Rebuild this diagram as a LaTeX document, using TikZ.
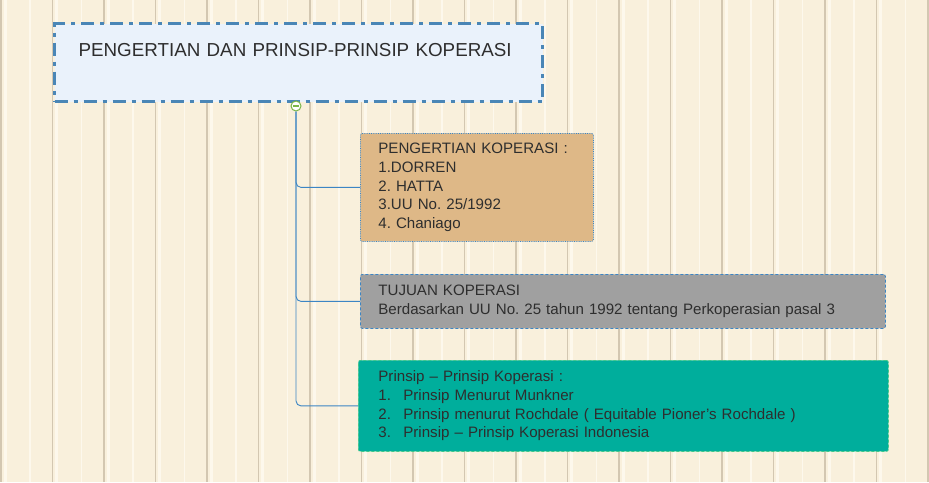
\documentclass[tikz,border=0pt]{standalone}
\usepackage{fontspec}
\setmainfont{Liberation Sans}
\usepackage{tikz}
\usetikzlibrary{shapes}

\definecolor{paper}{HTML}{F9F0DC}
\definecolor{stripe}{HTML}{D3C7B1}
\definecolor{streak}{HTML}{FDF8EC}
\definecolor{rootblue}{HTML}{4A86B6}
\definecolor{rootfill}{HTML}{EAF2FB}
\definecolor{linkblue}{HTML}{3C85C4}
\definecolor{tan}{HTML}{DEB887}
\definecolor{greybox}{HTML}{A0A0A0}
\definecolor{teal}{HTML}{00AE9C}
\definecolor{tealedge}{HTML}{3FC98A}
\definecolor{togglegreen}{HTML}{7AB648}
\definecolor{ink}{HTML}{2E2E2E}

\tikzset{
  rootbox/.style={draw=rootblue, fill=rootfill, line width=3pt,
    dash pattern=on 13pt off 6pt on 4pt off 6pt, text=ink,
    font=\fontsize{18.8}{22}\selectfont, align=left},
  topicbox/.style={rounded corners=2pt, text=ink, align=left,
    font=\fontsize{15.1}{18.7}\selectfont, inner xsep=18pt, inner ysep=0pt},
  branch/.style={draw=linkblue, line width=0.9pt, rounded corners=5pt},
}

\begin{document}
\frenchspacing
\begin{tikzpicture}[x=1pt, y=-1pt]
    \useasboundingbox (0,0) rectangle (929,482);
    % --- background with vertical stripes ---
    \begin{scope}
    \clip (0,0) rectangle (929,482);
    \fill[paper] (0,0) rectangle (929,482);
    \foreach \i in {0,...,18}{
        \draw[streak, line width=3pt] (5+51.5*\i,0) -- (5+51.5*\i,482);
        \draw[streak, line width=1.5pt] (30+51.5*\i,0) -- (30+51.5*\i,482);
        \draw[stripe, line width=1.1pt] (1+51.5*\i,0) -- (1+51.5*\i,482);
    }
    \end{scope}

    % --- central topic ---
    \node[rootbox, anchor=north west, text width=440pt, inner xsep=24pt,
          inner ysep=0pt, text height=33pt, text depth=45pt] (root) at (53,22)
          {PENGERTIAN DAN PRINSIP-PRINSIP KOPERASI};

    % --- collapse toggle ---
    \node[circle, draw=togglegreen, fill=white, line width=1pt,
          minimum size=10pt, inner sep=0pt] (toggle) at (296,106) {};
    \draw[togglegreen, line width=1.2pt] ([xshift=-2.8pt]toggle.center) -- ([xshift=2.8pt]toggle.center);

    % --- subtopics ---
    \node[topicbox, fill=tan, draw=linkblue, densely dotted, line width=0.8pt,
          anchor=north west, text width=197pt, minimum height=108pt] (pengertian) at (360,133)
          {PENGERTIAN KOPERASI :\\1.DORREN\\2. HATTA\\3.UU No. 25/1992\\4. Chaniago};

    \node[topicbox, fill=greybox, draw=linkblue, dash pattern=on 3pt off 2pt, line width=0.8pt,
          anchor=north west, text width=489pt, minimum height=54pt] (tujuan) at (360,274)
          {TUJUAN KOPERASI\\Berdasarkan UU No. 25 tahun 1992 tentang Perkoperasian pasal 3};

    \node[topicbox, fill=teal, draw=tealedge, dash pattern=on 3pt off 2pt, line width=0.8pt,
          anchor=north west, text width=490pt, minimum height=91pt, inner xsep=20pt] (prinsip) at (358,360)
          {Prinsip -- Prinsip Koperasi :\\
           \makebox[25pt][l]{1.}Prinsip Menurut Munkner\\
           \makebox[25pt][l]{2.}Prinsip menurut Rochdale ( Equitable Pioner’s Rochdale )\\
           \makebox[25pt][l]{3.}Prinsip -- Prinsip Koperasi Indonesia};

    % --- connectors ---
    \draw[branch] (toggle.south) |- (pengertian.west);
    \draw[branch] (toggle.south) |- (tujuan.west);
    \draw[branch] (toggle.south) |- (prinsip.west);
\end{tikzpicture}
\end{document}
